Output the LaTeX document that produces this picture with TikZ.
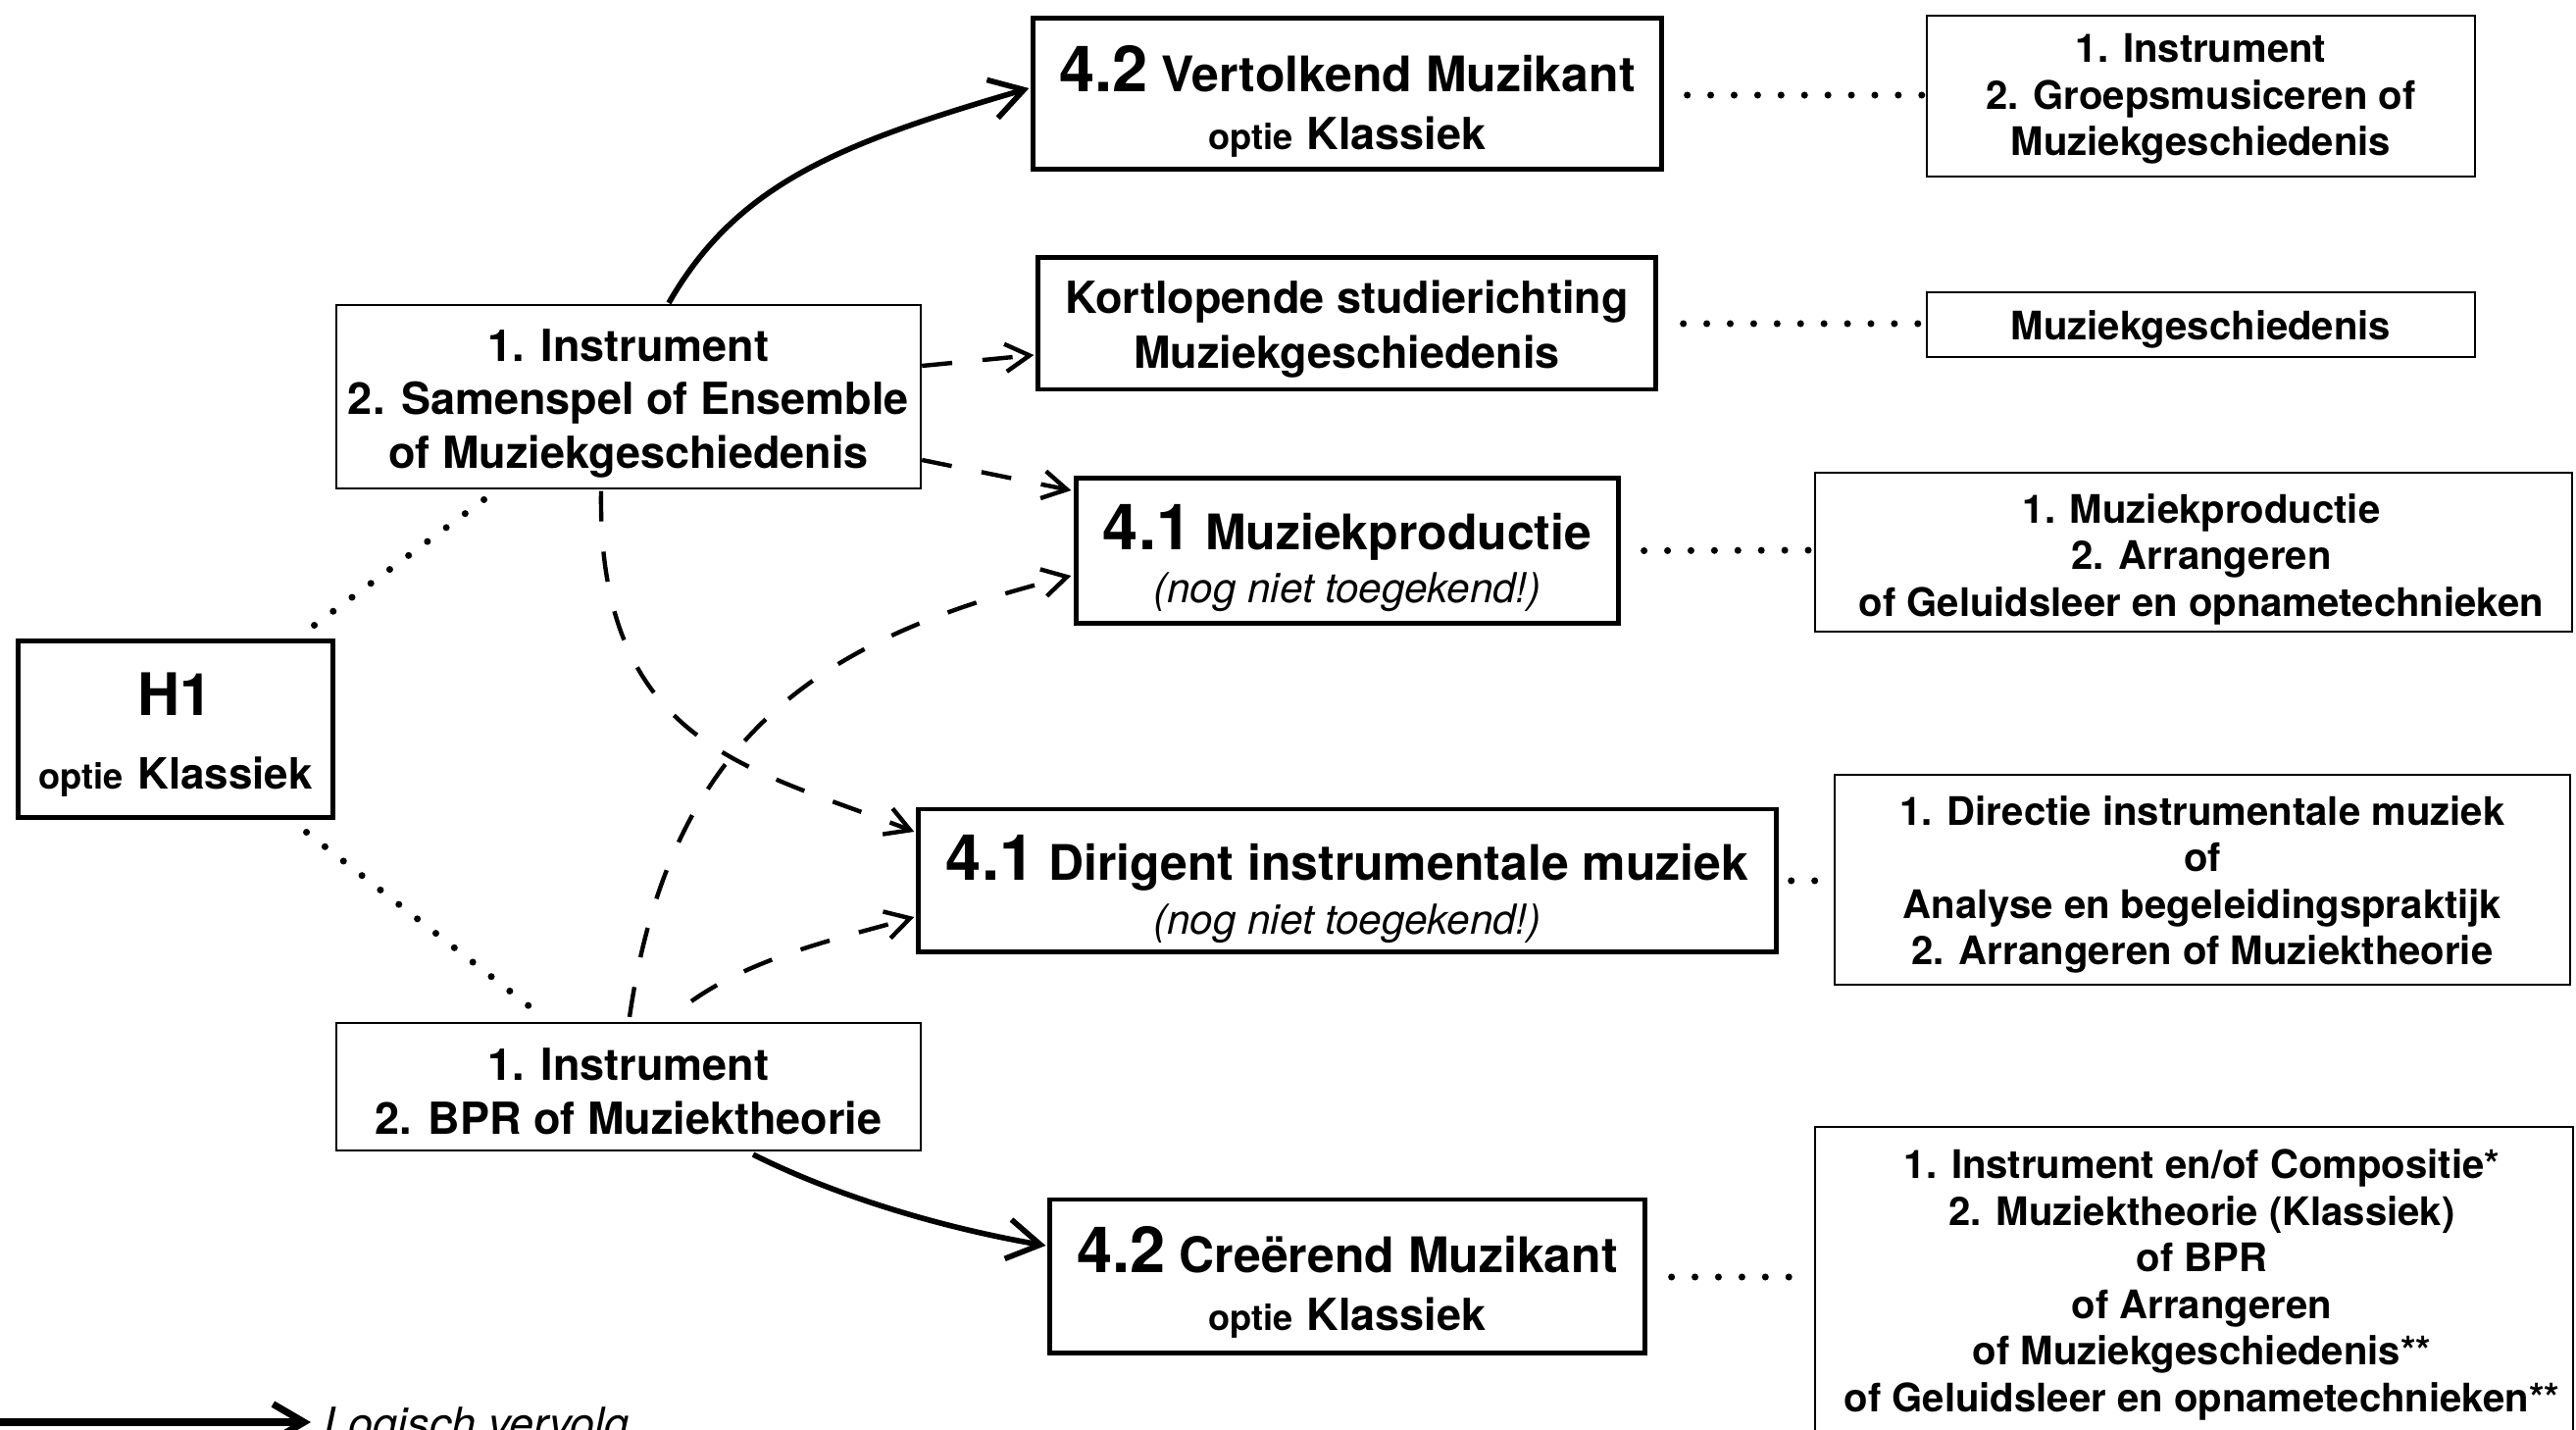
\documentclass[tikz,border=0pt]{standalone}
\usepackage{fontspec}
\setmainfont{TeX Gyre Heros}
\usetikzlibrary{arrows.meta,calc}
\newcommand\fsA{\bfseries\fontsize{12.8pt}{15.6pt}\selectfont}
\newcommand\fsKS{\bfseries\fontsize{12.8pt}{15.9pt}\selectfont}
\newcommand\fsBig{\bfseries\fontsize{14.2pt}{16.8pt}\selectfont}
\newcommand\fsMid{\bfseries\fontsize{14.2pt}{15.4pt}\selectfont}
\newcommand\fsR{\bfseries\fontsize{11.4pt}{13.5pt}\selectfont}
\newcommand\numbig[1]{{\fontsize{18.5pt}{16.8pt}\selectfont #1}}
\newcommand\optsmall{{\fontsize{10.3pt}{16.8pt}\selectfont optie}}
\newcommand\klas{{\fontsize{12.8pt}{16.8pt}\selectfont Klassiek}}
\newcommand\nognt{{\mdseries\itshape\fontsize{12pt}{15.4pt}\selectfont (nog niet toegekend!)}}
\begin{document}
\begin{tikzpicture}[x=0.01cm,y=-0.01cm,
  thickbox/.style={draw, line width=1.4pt, inner sep=0pt},
  thinbox/.style={draw, line width=0.6pt, inner sep=0pt},
  txt/.style={inner sep=0pt, align=center},
  solidarrow/.style={line width=1.6pt, -{Straight Barb[length=9.5pt,width=11.5pt]}},
  dasharrow/.style={line width=1.25pt, dash pattern=on 8.8pt off 8.8pt, -{Straight Barb[length=7pt,width=8pt]}},
  dotline/.style={line width=2pt, line cap=round, dash pattern=on 0pt off 6.8pt}]
\useasboundingbox (0,0) rectangle (2627,1458);

% boxes
\node[thickbox, minimum width=3.20cm, minimum height=1.79cm] (H1) at (179,743.5) {};
\node[thinbox, minimum width=5.96cm, minimum height=1.87cm] (A) at (641,404.5) {};
\node[thinbox, minimum width=5.96cm, minimum height=1.30cm] (B) at (641,1108) {};
\node[thickbox, minimum width=6.40cm, minimum height=1.53cm] (V42) at (1374,95.5) {};
\node[thickbox, minimum width=6.29cm, minimum height=1.34cm] (KS) at (1373.5,330) {};
\node[thickbox, minimum width=5.52cm, minimum height=1.47cm] (M41) at (1374,561.5) {};
\node[thickbox, minimum width=8.74cm, minimum height=1.45cm] (D41) at (1374,897.5) {};
\node[thickbox, minimum width=6.06cm, minimum height=1.56cm] (C42) at (1374,1301) {};
\node[thinbox, minimum width=5.59cm, minimum height=1.64cm] (R1) at (2244.5,98) {};
\node[thinbox, minimum width=5.59cm, minimum height=0.66cm] (R2) at (2244.5,331) {};
\node[thinbox, minimum width=7.72cm, minimum height=1.62cm] (R3) at (2237,563) {};
\node[thinbox, minimum width=7.50cm, minimum height=2.14cm] (R4) at (2246,897) {};
\node[thinbox, minimum width=7.73cm, minimum height=3.14cm] (R5) at (2237.5,1306) {};

% texts
\node[txt, font=\bfseries\fontsize{17pt}{21.3pt}\selectfont] (H1t) at ($(H1.center)+(0,6)$)
  {H1\\{\fontsize{10.3pt}{21.3pt}\selectfont optie}\hspace{0.25em}{\fontsize{12.5pt}{21.3pt}\selectfont Klassiek}};
\node[txt, font=\fsA] (At) at ($(A.center)+(0,7)$)
  {1. Instrument\\2. Samenspel of Ensemble\\of Muziekgeschiedenis};
\node[txt, font=\fsA] (Bt) at ($(B.center)+(0,5)$)
  {1. Instrument\\2. BPR of Muziektheorie};
\node[txt, font=\fsBig] (V42t) at ($(V42.center)+(0,8)$)
  {\numbig{4.2} Vertolkend Muzikant\\\optsmall{} \klas};
\node[txt, font=\fsKS] (KSt) at ($(KS.center)+(0,6)$)
  {Kortlopende studierichting\\Muziekgeschiedenis};
\node[txt, font=\fsMid] (M41t) at ($(M41.center)+(0,7.5)$)
  {\numbig{4.1} Muziekproductie\\\nognt};
\node[txt, font=\fsMid] (D41t) at ($(D41.center)+(0,9)$)
  {\numbig{4.1} Dirigent instrumentale muziek\\\nognt};
\node[txt, font=\fsBig] (C42t) at ($(C42.center)+(0,6)$)
  {\numbig{4.2} Creërend Muzikant\\\optsmall{} \klas};
\node[txt, font=\fsR] (R1t) at ($(R1.center)+(0,3)$)
  {1. Instrument\\2. Groepsmusiceren of\\Muziekgeschiedenis};
\node[txt, font=\fsR] (R2t) at ($(R2.center)+(0,5)$)
  {Muziekgeschiedenis};
\node[txt, font=\fsR] (R3t) at ($(R3.center)+(8,7)$)
  {1. Muziekproductie\\2. Arrangeren\\of Geluidsleer en opnametechnieken};
\node[txt, font=\fsR] (R4t) at ($(R4.center)+(0,5)$)
  {1. Directie instrumentale muziek\\of\\Analyse en begeleidingspraktijk\\2. Arrangeren of Muziektheorie};
\node[txt, font=\fsR] (R5t) at ($(R5.center)+(8,4)$)
  {1. Instrument en/of Compositie*\\2. Muziektheorie (Klassiek)\\of BPR\\of Arrangeren\\of Muziekgeschiedenis**\\of Geluidsleer en opnametechnieken**};

% solid arrows
\draw[solidarrow] ($(A.north)+(41,-1)$) .. controls ($(A.north)+(111,-123)$) and ($(V42.west)+(-194,50.5)$) .. ($(V42.west)+(-2,-5.5)$);
\draw[solidarrow] ($(B.south)+(127,3)$) .. controls ($(B.south)+(217,48)$) and ($(C42.west)+(-101,-48)$) .. ($(C42.west)+(-2,-31)$);

% dashed arrows
\draw[dasharrow] ($(A.east)+(0,-31.5)$) -- ($(KS.west)+(-2,32)$);
\draw[dasharrow] ($(A.east)+(0,64.5)$) -- ($(M41.west)+(-3,-61.5)$);
\draw[dasharrow] ($(A.south)+(-28,1.5)$) .. controls ($(A.south)+(-32,261.5)$) and ($(D41.west)+(-169,-114.5)$) .. ($(D41.west)+(-2,-49.5)$);
\draw[dasharrow] ($(B.north)+(1,-5)$) .. controls ($(B.north)+(44,-302)$) and ($(M41.west)+(-246,86.5)$) .. ($(M41.west)+(-3,25.5)$);
\draw[dasharrow] ($(B.north)+(64,-21)$) .. controls ($(B.north)+(129,-67)$) and ($(D41.west)+(-79,59.5)$) .. ($(D41.west)+(-2,37.5)$);

% dotted connectors
\draw[dotline] ($(H1.north east)+(-21,-14)$) -- ($(A.south west)+(161,3.5)$);
\draw[dotline] ($(H1.south east)+(-29,13)$) -- ($(B.north west)+(203,-12)$);
\draw[dotline] ($(V42.east)+(24,1.5)$) -- ($(R1.west)+(-4,-1)$);
\draw[dotline] ($(KS.east)+(26,0)$) -- ($(R2.west)+(-6,-1)$);
\draw[dotline] ($(M41.east)+(24,0)$) -- ($(R3.west)+(-4,-2)$);
\draw[dotline] ($(D41.east)+(13,0.5)$) -- ($(R4.west)+(-19,1)$);
\draw[dotline] ($(C42.east)+(25,1)$) -- ($(R5.west)+(-24,-4)$);

% legend
\coordinate (L0) at (0,1450);
\coordinate (L1) at (317,1450);
\draw[line width=2pt, -{Straight Barb[length=9pt,width=10.5pt]}] (L0) -- (L1);
\node[anchor=base west, inner sep=0pt, font=\itshape\fontsize{12.8pt}{15pt}\selectfont] (leg) at (330,1467) {Logisch vervolg};
\end{tikzpicture}
\end{document}
